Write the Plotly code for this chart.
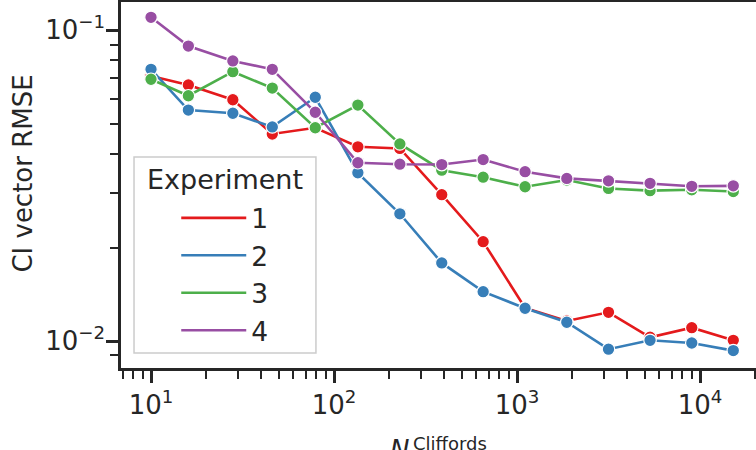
import plotly.graph_objects as go

n_cliffords = [10, 16, 28, 46, 79, 135, 229, 388, 653, 1107, 1871, 3162, 5334, 9016, 15200]
exp1 = [0.0713, 0.0667, 0.0598, 0.0464, 0.0486, 0.0422, 0.0417, 0.0296, 0.0209, 0.0128, 0.01162, 0.01239, 0.0103, 0.01106, 0.01007]
exp2 = [0.0749, 0.0554, 0.0541, 0.0489, 0.0609, 0.0348, 0.0257, 0.01786, 0.01444, 0.01277, 0.01151, 0.00943, 0.01007, 0.00987, 0.00933]
exp3 = [0.0696, 0.0616, 0.0736, 0.0652, 0.0486, 0.0575, 0.0431, 0.0355, 0.0337, 0.0314, 0.0330, 0.0310, 0.0305, 0.0307, 0.0303]
exp4 = [0.1101, 0.0890, 0.0797, 0.0749, 0.0545, 0.0375, 0.0371, 0.0370, 0.0384, 0.0351, 0.0334, 0.0328, 0.0322, 0.0315, 0.0316]
series_names = ["1", "2", "3", "4"]
series_values = [exp1, exp2, exp3, exp4]
colors = ["#e41a1c", "#377eb8", "#4daf4a", "#984ea3"]

x_major = [10, 100, 1000, 10000]
x_major_text = ["10<sup>1</sup>", "10<sup>2</sup>", "10<sup>3</sup>", "10<sup>4</sup>"]
y_major = [0.01, 0.1]
y_major_text = ["10<sup>\u22122</sup>", "10<sup>\u22121</sup>"]

FONT = "DejaVu Sans"
INK = "#262626"

fig = go.Figure()
for name, vals, col in zip(series_names, series_values, colors):
    fig.add_trace(go.Scatter(
        x=n_cliffords, y=vals, mode="lines+markers", name=name,
        line=dict(color=col, width=2.6),
        marker=dict(size=12.5, color=col, line=dict(color="white", width=1.2)),
        showlegend=False,
    ))
for name, col in zip(series_names, colors):
    fig.add_trace(go.Scatter(
        x=[None], y=[None], mode="lines", name=name,
        line=dict(color=col, width=2.6), showlegend=True,
    ))

x_minor = [m * 10 ** e for e in range(0, 5) for m in range(2, 10)]
y_minor = [m * 10.0 ** e for e in range(-3, 0) for m in range(2, 10)]

fig.update_layout(
    width=756, height=450,
    margin=dict(l=121, r=0, t=2, b=82, autoexpand=False),
    paper_bgcolor="white", plot_bgcolor="white",
    font=dict(family=FONT, size=26, color=INK),
    showlegend=True,
    legend=dict(
        x=0.087, y=0.475, xanchor="left", yanchor="top",
        bgcolor="rgba(0,0,0,0)", borderwidth=0,
        font=dict(family=FONT, size=26.5, color=INK),
        itemwidth=65,
    ),
    shapes=[dict(
        type="rect", xref="paper", yref="paper",
        x0=0.0205, x1=0.307, y0=0.041, y1=0.5765,
        fillcolor="rgba(255,255,255,0.85)", line=dict(color="#cccccc", width=1.5),
        layer="above",
    )],
    xaxis=dict(
        type="log", range=[0.836, 4.306], automargin=False,
        showline=True, linecolor=INK, linewidth=2.5, mirror=True,
        ticks="outside", ticklen=12, tickwidth=2.5, tickcolor=INK,
        tickvals=x_major, ticktext=x_major_text,
        tickfont=dict(family=FONT, size=26, color=INK),
        showgrid=False, zeroline=False,
        minor=dict(tickvals=x_minor, ticks="outside", ticklen=8, tickwidth=2, tickcolor=INK, showgrid=False),
    ),
    yaxis=dict(
        type="log", range=[-2.086, -0.909], automargin=False,
        showline=True, linecolor=INK, linewidth=2.5, mirror=False,
        ticks="outside", ticklen=12, tickwidth=2.5, tickcolor=INK,
        tickvals=y_major, ticktext=y_major_text,
        tickfont=dict(family=FONT, size=26, color=INK),
        showgrid=False, zeroline=False,
        minor=dict(tickvals=y_minor, ticks="outside", ticklen=8, tickwidth=2, tickcolor=INK, showgrid=False),
        ticklabelstandoff=-4,
    ),
    annotations=[
        dict(
            text="CI vector RMSE", textangle=-90, xref="paper", yref="paper",
            x=-0.155, y=0.53, xanchor="center", yanchor="middle", showarrow=False,
            font=dict(family=FONT, size=26, color=INK),
        ),
        dict(
            text="<i>N</i>", xref="paper", yref="paper",
            x=0.4567, y=-0.224, xanchor="right", yanchor="middle", showarrow=False,
            font=dict(family=FONT, size=26, color=INK),
        ),
        dict(
            text="Cliffords", xref="paper", yref="paper",
            x=0.4567, y=-0.2068, xanchor="left", yanchor="middle", showarrow=False,
            font=dict(family=FONT, size=18, color=INK),
        ),
        dict(
            text="Experiment", xref="paper", yref="paper",
            x=0.1638, y=0.5137, xanchor="center", yanchor="middle", showarrow=False,
            font=dict(family=FONT, size=27, color=INK),
        ),
    ],
)

fig.write_html("out.html")
